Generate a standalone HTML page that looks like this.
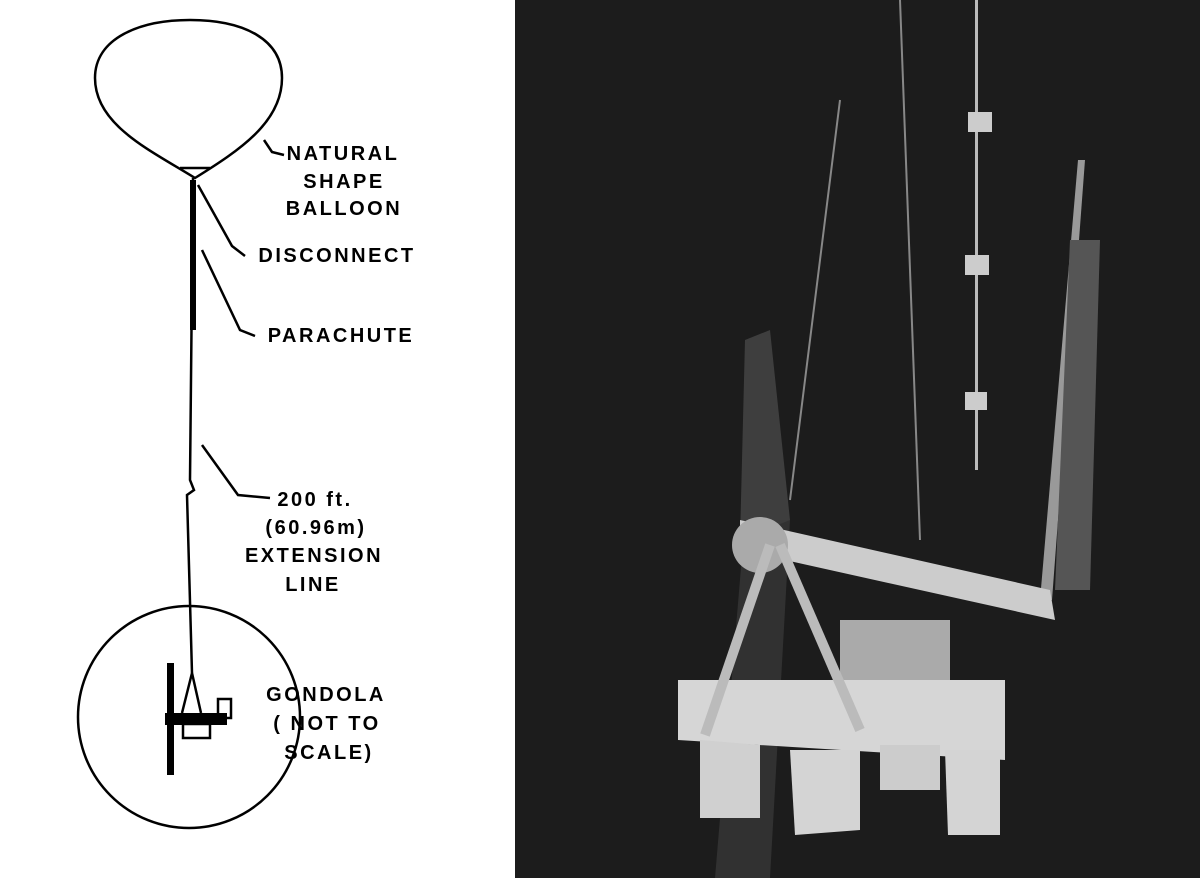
<!DOCTYPE html>
<html><head><style>
body{margin:0;width:1200px;height:878px;overflow:hidden;background:#fff;font-family:"Liberation Sans",sans-serif}
</style></head><body>
<svg width="1200" height="878" xmlns="http://www.w3.org/2000/svg">
<rect x="0" y="0" width="515" height="878" fill="#fff"/>
<g fill="none" stroke="#000" stroke-width="2.5">
<path d="M195,178 C150,150 95,125 95,78 C95,38 140,20 190,20 C245,20 282,40 282,78 C282,122 240,150 195,178 Z"/>
<path d="M180,168 L210,168"/>
<path d="M193,178 L190,480 L194,490 L187,495 L192,673"/>
<circle cx="189" cy="717" r="111"/>
<path d="M192,673 L182,713 M192,673 L201,713"/>
<rect x="218" y="699" width="13" height="19"/>
<path d="M264,140 L272,152 L284,155"/>
<path d="M198,185 L232,246 L245,256"/>
<path d="M202,250 L240,330 L255,336"/>
<path d="M202,445 L238,495 L270,498"/>
</g>
<rect x="167" y="663" width="7" height="112" fill="#000"/>
<rect x="165" y="713" width="62" height="12" fill="#000"/>
<rect x="183" y="724" width="27" height="14" fill="none" stroke="#000" stroke-width="2.5"/>
<rect x="190" y="180" width="6" height="150" fill="#000"/>
<g font-family="Liberation Sans" font-weight="bold" font-size="20" letter-spacing="2.5" fill="#000" text-anchor="middle">
<text x="343" y="160">NATURAL</text>
<text x="344" y="188">SHAPE</text>
<text x="344" y="215">BALLOON</text>
<text x="337" y="262">DISCONNECT</text>
<text x="341" y="342">PARACHUTE</text>
<text x="315" y="506">200 ft.</text>
<text x="316" y="534">(60.96m)</text>
<text x="314" y="562">EXTENSION</text>
<text x="313" y="591">LINE</text>
<text x="326" y="701">GONDOLA</text>
<text x="327" y="730">( NOT TO</text>
<text x="329" y="759">SCALE)</text>
</g>
<rect x="515" y="0" width="685" height="878" fill="#1c1c1c"/>
<polygon points="745,340 770,330 790,520 740,540" fill="#555" opacity="0.6"/>
<polygon points="715,878 745,520 790,520 770,878" fill="#3a3a3a" opacity="0.7"/>
<rect x="975" y="0" width="3" height="470" fill="#bbb"/>
<rect x="968" y="112" width="24" height="20" fill="#ccc"/>
<rect x="965" y="255" width="24" height="20" fill="#ccc"/>
<rect x="965" y="392" width="22" height="18" fill="#ccc"/>
<polygon points="1040,600 1078,160 1085,160 1052,600" fill="#999"/>
<polygon points="1055,590 1070,240 1100,240 1090,590" fill="#555"/>
<polygon points="740,520 1050,590 1055,620 740,550" fill="#ccc"/>
<circle cx="760" cy="545" r="28" fill="#aaa"/>
<polygon points="678,680 1005,680 1005,760 678,740" fill="#d6d6d6"/>
<polygon points="840,620 950,620 950,680 840,680" fill="#aaa"/>
<polygon points="700,740 760,745 760,818 700,818" fill="#d0d0d0"/>
<polygon points="790,750 860,750 860,830 795,835" fill="#d4d4d4"/>
<polygon points="880,745 940,745 940,790 880,790" fill="#ccc"/>
<polygon points="945,750 1000,750 1000,835 948,835" fill="#d4d4d4"/>
<line x1="705" y1="735" x2="770" y2="545" stroke="#bbb" stroke-width="10"/>
<line x1="860" y1="730" x2="780" y2="545" stroke="#bbb" stroke-width="10"/>
<line x1="790" y1="500" x2="840" y2="100" stroke="#888" stroke-width="2"/>
<line x1="920" y1="540" x2="900" y2="0" stroke="#888" stroke-width="2"/>
</svg>
</body></html>
